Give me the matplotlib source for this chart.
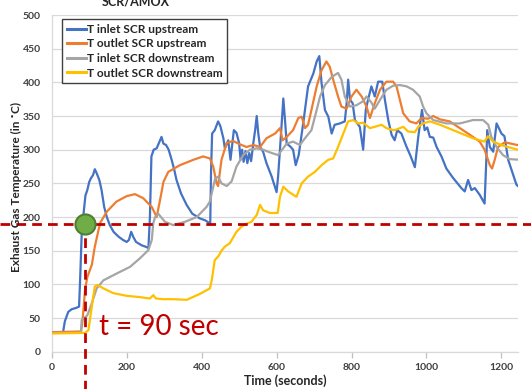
import matplotlib
matplotlib.use("Agg")
import matplotlib.pyplot as plt
import matplotlib.transforms as mtransforms

# ---- data: time (s) and temperature (deg C) per sensor ----
inlet_up_t = [0, 30, 35, 44, 53, 65, 73, 76, 80, 84, 90, 95, 100, 105, 110, 115, 120, 127, 133, 140,
              147, 155, 165, 178, 190, 200, 206, 212, 218, 225, 240, 250, 258, 262, 266, 272, 280, 286,
              293, 298, 305, 312, 320, 327, 333, 345, 360, 375, 395, 410, 423, 425, 428, 435, 444, 450,
              458, 462, 471, 477, 481, 486, 493, 500, 504, 508, 512, 517, 522, 527, 532, 538, 543, 547,
              551, 556, 564, 573, 587, 600, 604, 609, 618, 623, 627, 636, 644, 651, 659, 671, 684, 698,
              707, 714, 720, 729, 738, 747, 755, 769, 782, 787, 791, 796, 803, 809, 822, 831, 838, 844,
              853, 862, 871, 882, 889, 898, 907, 915, 922, 933, 947, 958, 969, 978, 988, 995, 1002, 1009,
              1018, 1027, 1040, 1053, 1071, 1093, 1102, 1111, 1120, 1129, 1142, 1155, 1160, 1162, 1169,
              1178, 1187, 1193, 1200, 1208, 1218, 1227, 1240, 1250]
inlet_up_T = [28, 28, 45, 59, 63, 65, 67, 110, 175, 200, 232, 240, 252, 258, 262, 271, 265, 255, 240, 215,
              200, 188, 178, 171, 166, 163, 166, 178, 170, 163, 158, 156, 154, 200, 290, 300, 302, 310,
              319, 309, 307, 300, 285, 270, 255, 235, 218, 205, 198, 195, 190, 265, 324, 329, 342, 335,
              317, 302, 314, 285, 305, 329, 325, 310, 285, 300, 282, 298, 280, 295, 283, 310, 330, 350,
              325, 304, 297, 280, 260, 237, 260, 300, 376, 340, 309, 305, 300, 277, 292, 339, 394, 413,
              431, 439, 399, 359, 349, 324, 337, 339, 342, 369, 404, 374, 369, 344, 334, 300, 359, 374,
              394, 379, 401, 401, 374, 344, 322, 314, 329, 324, 304, 290, 274, 319, 359, 329, 333, 319,
              318, 304, 290, 272, 258, 243, 238, 255, 240, 243, 233, 220, 290, 329, 304,
              297, 339, 332, 324, 320, 285, 270, 248, 243]

outlet_up_t = [0, 78, 82, 89, 95, 107, 115, 129, 147, 173, 200, 222, 244, 267, 280, 289, 298, 311, 342,
               378, 404, 422, 431, 440, 444, 453, 467, 484, 502, 520, 538, 556, 573, 596, 609, 616, 627,
               644, 658, 667, 676, 684, 693, 707, 720, 733, 742, 751, 764, 773, 787, 800, 813, 827, 840,
               849, 862, 876, 893, 911, 920, 929, 938, 955, 973, 987, 1004, 1018, 1036, 1062, 1089, 1116,
               1142, 1155, 1169, 1175, 1182, 1191, 1209, 1250]
outlet_up_T = [29, 30, 45, 92, 111, 129, 156, 191, 208, 223, 231, 234, 228, 215, 200, 225, 252, 267, 277,
               285, 290, 287, 275, 250, 246, 285, 310, 313, 308, 304, 307, 304, 317, 324, 332, 314, 319,
               329, 347, 349, 332, 337, 359, 394, 418, 431, 423, 404, 379, 364, 361, 379, 389, 379, 364,
               347, 369, 389, 401, 401, 394, 374, 354, 342, 339, 347, 346, 350, 345, 342, 332, 322,
               312, 300, 277, 272, 285, 304, 311, 306]

inlet_down_t = [0, 78, 80, 95, 107, 120, 138, 173, 209, 236, 258, 267, 271, 276, 284, 302, 324, 356, 387,
                413, 422, 431, 436, 444, 453, 467, 480, 493, 511, 529, 547, 564, 582, 604, 627, 644, 662,
                680, 693, 707, 716, 729, 747, 764, 773, 782, 796, 813, 831, 840, 853, 862, 876, 893, 911,
                929, 947, 964, 982, 991, 1000, 1018, 1053, 1089, 1124, 1151, 1165, 1173, 1187, 1204, 1222,
                1250]
inlet_down_T = [28, 28, 47, 54, 72, 94, 106, 116, 126, 139, 151, 166, 191, 200, 205, 193, 188, 193, 200,
                215, 223, 245, 257, 260, 250, 246, 253, 275, 292, 300, 302, 300, 296, 292, 309, 312, 307,
                320, 329, 359, 379, 396, 408, 414, 404, 379, 364, 366, 372, 379, 370, 361, 374, 389, 395,
                396, 394, 389, 379, 364, 354, 344, 339, 339, 344, 344, 337, 319, 304, 292, 286,
                285]

outlet_down_t = [0, 89, 98, 107, 115, 122, 138, 164, 200, 236, 262, 271, 278, 298, 324, 360, 396, 422, 427,
                 435, 445, 453, 462, 475, 493, 507, 520, 533, 547, 556, 564, 582, 603, 609, 618, 631, 653,
                 667, 684, 702, 720, 738, 751, 764, 778, 791, 804, 818, 831, 849, 862, 880, 893, 911, 920,
                 938, 951, 969, 978, 991, 1009, 1036, 1080, 1124, 1155, 1164, 1178, 1204, 1250]
outlet_down_T = [27, 28, 32, 67, 97, 99, 94, 87, 83, 81, 79, 84, 79, 78, 78, 77, 86, 94, 106,
                 136, 142, 150, 156, 161, 178, 186, 190, 193, 203, 218, 210, 206, 206, 230, 245, 238, 230,
                 250, 260, 267, 277, 285, 287, 304, 324, 342, 344, 339, 340, 332, 334, 337, 332, 329, 330,
                 334, 327, 326, 334, 339, 342, 337, 327, 317, 312, 320, 312, 306, 299]

series_names = ["T inlet SCR upstream", "T outlet SCR upstream",
                "T inlet SCR downstream", "T outlet SCR downstream"]
series_colors = ["#4472C4", "#ED7D31", "#A5A5A5", "#FFC000"]

light_off_time = 90        # s
light_off_temp = 189       # deg C
y_ticks = list(range(0, 501, 50))
x_ticks = list(range(0, 1201, 200))

# ---- figure ----
plt.rcParams["font.family"] = ["Lato", "DejaVu Sans"]
W, H = 531, 389
fig = plt.figure(figsize=(W / 100, H / 100), dpi=100)
ax = fig.add_axes([0.0974, 0.0959, 0.8787, 0.8655])

series = [(inlet_up_t, inlet_up_T), (outlet_up_t, outlet_up_T),
          (inlet_down_t, inlet_down_T), (outlet_down_t, outlet_down_T)]
for (t, T), name, col in zip(series, series_names, series_colors):
    ax.plot(t, T, color=col, lw=1.6, label=name, solid_joinstyle="round", zorder=3)

ax.set_xlim(0, 1245)
ax.set_ylim(0, 500)
ax.set_yticks(y_ticks)
ax.set_xticks(x_ticks)
ax.grid(axis="y", color="#D9D9D9", lw=0.9)
ax.set_axisbelow(True)
for side in ("top", "right"):
    ax.spines[side].set_visible(False)
for side in ("left", "bottom"):
    ax.spines[side].set_color("#D9D9D9")
    ax.spines[side].set_linewidth(0.9)
ax.tick_params(axis="y", length=0, pad=8, labelsize=7.5, labelcolor="#404040")
ax.tick_params(axis="x", length=4, width=0.9, color="#BFBFBF", pad=4, labelsize=7.5,
               labelcolor="#404040")
for lbl in ax.get_xticklabels() + ax.get_yticklabels():
    lbl.set_fontweight("bold")

# axis titles placed in figure pixels
fig.text(16 / W, 1 - 187 / H, "Exhaust Gas Temperature (in ˚C)", rotation=90,
         ha="center", va="center", fontsize=8.5, fontweight="bold", color="#262626")
fig.text(285 / W, 1 - 381 / H, "Time (seconds)", ha="center", va="center",
         fontsize=9, fontweight="bold", color="#262626")
fig.text(136 / W, 1 - 5 / H, "SCR/AMOX", ha="center", va="baseline",
         fontsize=9, fontweight="bold", color="#262626")

leg = ax.legend(loc="upper left", bbox_to_anchor=(0.022, 0.988), borderaxespad=0,
                fancybox=False, framealpha=1, edgecolor="#404040",
                handlelength=1.6, handletextpad=0.1, labelspacing=0.3,
                borderpad=0.4, prop={"weight": "bold", "size": 8.6})
leg.get_frame().set_linewidth(1.0)
for line in leg.get_lines():
    line.set_linewidth(2.2)
for txt in leg.get_texts():
    txt.set_color("#262626")

# light-off marker: dashed guides reaching outside the plot area
red = "#C00000"
xt = mtransforms.blended_transform_factory(ax.transAxes, ax.transData)
ax.plot([-0.111, 1.03], [light_off_temp, light_off_temp], transform=xt, color=red, lw=2,
        ls=(0, (3.5, 2.2)), clip_on=False, zorder=5)
yt = mtransforms.blended_transform_factory(ax.transData, ax.transAxes)
ax.plot([light_off_time, light_off_time], [-0.12, (light_off_temp / 500)], transform=yt,
        color=red, lw=2, ls=(0, (3.5, 2.2)), clip_on=False, zorder=5)
ax.plot([light_off_time], [light_off_temp], "o", ms=14.5, mfc="#70AD47", mec="#507E32",
        mew=1.5, zorder=6, clip_on=False)
ax.text(125, 25, "t = 90 sec", color=red, fontsize=20, ha="left", va="baseline", zorder=6)

fig.savefig("out.png", dpi=100)
